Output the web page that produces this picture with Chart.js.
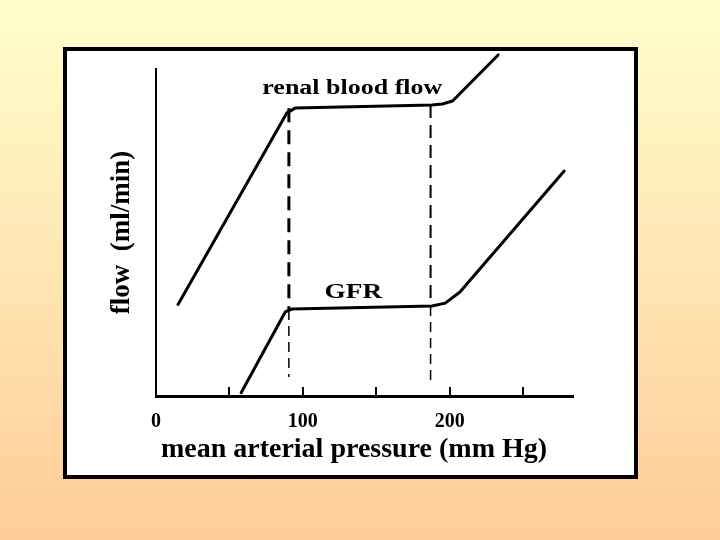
<!DOCTYPE html>
<html>
<head>
<meta charset="utf-8">
<script src="https://cdn.jsdelivr.net/npm/chart.js@4.4.1/dist/chart.umd.min.js"></script>
<style>
  html, body { margin: 0; padding: 0; overflow: hidden; }
  body {
    width: 720px; height: 540px;
    background: linear-gradient(to bottom, #ffffcc, #ffcc99);
    position: relative;
  }
  #box {
    position: absolute; left: 63px; top: 47px;
    width: 567px; height: 424px;
    background: #fff; border: 4px solid #000;
  }
  #chart { position: absolute; left: 0; top: 0; }
</style>
</head>
<body>
<div id="box"></div>
<canvas id="chart" width="720" height="540"></canvas>
<script>
// mean arterial pressure (mm Hg) vs flow (arbitrary units)
const rbfPressure = [15, 89, 95, 188, 195, 202, 233];
const rbfFlow     = [28, 86.5, 88.1, 89, 89.3, 90.2, 104.3];
const gfrPressure = [58, 88, 92.5, 188, 197, 207, 278];
const gfrFlow     = [1, 25.7, 26.6, 27.5, 28.4, 31.8, 68.8];

// autoregulation range (dashed lines)
const autoregPressure = [90.5, 187];
const dashTop    = [88, 89];
const dashMiddle = [26.3, 27.5];
const dashBottom = [5.8, 3.4];

const labeledTicks = [0, 100, 200];

const serif = '"Liberation Serif", "Times New Roman", serif';

function toPoints(xs, ys) {
    return xs.map((x, i) => ({ x: x, y: ys[i] }));
}

function curve(xs, ys) {
    return {
        data: toPoints(xs, ys),
        borderColor: "#000",
        borderWidth: 3,
        pointRadius: 0,
        borderJoinStyle: "round",
        borderCapStyle: "round",
        clip: false,
    };
}

function dashed(x, y1, y2, width, dash) {
    return {
        data: [{ x: x, y: y1 }, { x: x, y: y2 }],
        borderColor: "#000",
        borderWidth: width,
        borderDash: dash,
        pointRadius: 0,
        clip: false,
    };
}

// in-plot labels, horizontally stretched like the scanned original
const curveLabels = {
    id: "curveLabels",
    afterDatasetsDraw(chart) {
        const { ctx, scales } = chart;
        const items = [
            { text: "renal blood flow", x: 133.7, y: 92.4, size: 20 },
            { text: "GFR", x: 134.4, y: 30, size: 21 },
        ];
        ctx.save();
        ctx.fillStyle = "#000";
        ctx.textAlign = "center";
        ctx.textBaseline = "alphabetic";
        items.forEach((it) => {
            ctx.save();
            ctx.font = "bold " + it.size + "px " + serif;
            ctx.translate(scales.x.getPixelForValue(it.x), scales.y.getPixelForValue(it.y));
            ctx.scale(1.3, 1);
            ctx.fillText(it.text, 0, 0);
            ctx.restore();
        });
        ctx.restore();
    },
};

new Chart(document.getElementById("chart"), {
    type: "line",
    data: {
        datasets: [
            curve(rbfPressure, rbfFlow),
            curve(gfrPressure, gfrFlow),
            dashed(autoregPressure[0], dashTop[0], dashMiddle[0], 3, [14, 8]),
            dashed(autoregPressure[0], dashMiddle[0], dashBottom[0], 1.5, [10, 6]),
            dashed(autoregPressure[1], dashTop[1], dashMiddle[1], 2, [13, 7]),
            dashed(autoregPressure[1], dashMiddle[1], dashBottom[1], 1.5, [10, 6]),
        ],
    },
    options: {
        responsive: false,
        animation: false,
        devicePixelRatio: 1,
        layout: {
            padding: { left: 66, top: 69, right: 147, bottom: 62 },
        },
        plugins: {
            legend: { display: false },
            tooltip: { enabled: false },
        },
        scales: {
            x: {
                type: "linear",
                min: 0,
                max: 284,
                afterFit(scale) { scale.height = 82; },
                border: { display: true, color: "#000", width: 3 },
                grid: {
                    display: true,
                    drawOnChartArea: false,
                    drawTicks: true,
                    tickLength: -9,
                    color: "#000",
                    lineWidth: 2,
                },
                ticks: {
                    stepSize: 50,
                    includeBounds: false,
                    maxRotation: 0,
                    autoSkip: false,
                    padding: 23,
                    color: "#000",
                    font: { family: serif, size: 20, weight: "bold" },
                    callback: (v) => (labeledTicks.includes(v) ? String(v) : ""),
                },
                title: {
                    display: true,
                    // trailing spaces nudge the centred title a little left
                    text: "mean arterial pressure (mm Hg)   ",
                    color: "#000",
                    font: { family: serif, size: 28, weight: "bold" },
                    padding: { top: 0, bottom: 11 },
                },
            },
            y: {
                type: "linear",
                min: 0,
                max: 100,
                afterFit(scale) { scale.width = 90; },
                border: { display: true, color: "#000", width: 2 },
                grid: { display: false },
                ticks: { display: false },
                title: {
                    display: true,
                    text: "flow  (ml/min)",
                    color: "#000",
                    font: { family: serif, size: 27, weight: "bold" },
                    padding: { top: 40, bottom: 0 },
                },
            },
        },
    },
    plugins: [curveLabels],
});
</script>
</body>
</html>
